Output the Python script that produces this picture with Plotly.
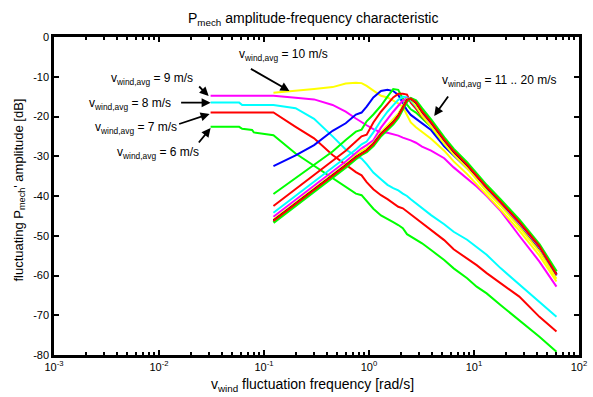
import plotly.graph_objects as go

# Frequency grids [rad/s]
freq_low = [0.031, 0.058, 0.062, 0.077, 0.080, 0.092, 0.123, 0.2, 0.3, 0.45, 0.6, 0.75,
            0.85, 0.95, 1.1, 1.3, 1.5, 1.7, 1.9, 2.1, 2.3, 2.5, 2.8, 3.2, 3.9, 5.2, 6.4,
            8.6, 10.6, 13.2, 18, 27, 42, 61]
freq_high = [0.123, 0.2, 0.3, 0.45, 0.6, 0.75, 0.85, 0.95, 1.1, 1.3, 1.5, 1.7, 1.9, 2.1,
             2.3, 2.5, 2.8, 3.2, 3.9, 5.2, 6.4, 8.6, 10.6, 13.2, 18, 27, 42, 61]

# Amplitude [dB] for each mean wind speed (low speeds on freq_low)
amp_v06 = [-22.6, -22.6, -23.1, -23.4, -24.0, -24.2, -24.7, -29.3, -32.4, -35.5, -37.7, -39.4,
           -39.8, -41.3, -43.2, -44.9, -45.9, -46.6, -47.3, -48.1, -49.6, -50.2, -50.9, -51.9,
           -53.6, -56.1, -58.2, -60.7, -62.8, -64.5, -67.5, -71.2, -75.4, -79.2]
amp_v07 = [-19.0, -19.0, -19.0, -19.0, -19.0, -19.0, -19.0, -22.6, -25.5, -29.7, -32.2, -34.0,
           -34.8, -36.5, -38.3, -39.8, -40.8, -41.7, -42.7, -43.1, -43.9, -44.6, -45.7, -47.0,
           -48.6, -51.1, -53.4, -55.7, -57.4, -59.4, -62.0, -65.3, -70.4, -74.1]
amp_v08 = [-16.5, -16.5, -17.1, -17.1, -17.1, -17.1, -17.1, -17.9, -20.6, -25.0, -28.3, -29.9,
           -30.6, -32.0, -34.1, -35.8, -37.2, -38.0, -38.6, -39.4, -40.0, -40.8, -41.8, -43.1,
           -44.8, -47.1, -49.0, -51.0, -52.8, -54.8, -58.2, -62.2, -66.5, -70.4]
amp_v09 = [-14.8, -14.8, -14.8, -14.8, -14.8, -14.8, -14.8, -15.3, -15.7, -17.1, -18.8, -20.5,
           -21.3, -22.2, -23.2, -24.0, -24.1, -24.4, -24.8, -25.3, -25.6, -26.0, -26.6, -27.6,
           -28.6, -30.5, -32.8, -35.5, -37.6, -40.0, -43.8, -50.0, -56.5, -62.8]

# Higher speeds on freq_high
amp_v10 = [-14.0, -13.6, -13.1, -12.6, -11.7, -11.5, -11.6, -12.3, -13.5, -14.8, -15.2, -16.0,
           -16.7, -17.6, -19.5, -21.5, -22.7, -23.8, -25.6, -28.6, -31.3, -34.5, -37.0, -39.6,
           -43.5, -48.7, -55.0, -61.5]
amp_v11 = [-32.5, -29.8, -27.2, -23.6, -21.7, -19.5, -19.0, -17.5, -15.2, -13.6, -13.3, -13.6,
           -14.6, -16.8, -18.4, -19.6, -20.6, -21.8, -23.4, -27.5, -29.8, -33.0, -35.3, -38.0,
           -42.0, -47.5, -53.5, -60.0]
amp_v12 = [-39.5, -35.5, -32.0, -28.8, -25.9, -23.8, -23.3, -21.2, -19.5, -17.3, -15.0, -13.1,
           -13.3, -15.5, -17.0, -18.2, -19.0, -20.5, -22.6, -26.8, -29.5, -32.8, -35.5, -38.2,
           -42.0, -47.0, -53.0, -59.8]
amp_v13 = [-42.5, -38.3, -34.8, -31.3, -28.6, -26.3, -25.0, -24.6, -21.5, -18.8, -16.9, -15.2,
           -14.3, -14.3, -14.5, -16.5, -18.0, -20.0, -22.3, -26.5, -29.3, -32.6, -35.3, -38.2,
           -41.9, -46.9, -52.9, -59.8]
amp_v14 = [-44.2, -40.0, -36.5, -33.0, -30.3, -28.3, -27.0, -26.3, -24.0, -21.0, -18.8, -17.2,
           -15.8, -15.0, -15.2, -16.0, -17.5, -19.6, -22.0, -26.3, -29.1, -32.5, -35.2, -38.1,
           -41.8, -46.8, -52.8, -59.6]
amp_v15 = [-45.2, -41.0, -37.5, -34.0, -31.3, -29.2, -28.0, -27.2, -26.0, -22.8, -20.5, -18.8,
           -17.3, -16.0, -15.4, -15.6, -17.0, -19.3, -21.8, -26.2, -29.0, -32.4, -35.2, -38.0,
           -41.7, -46.8, -52.8, -59.8]
amp_v16 = [-45.9, -41.7, -38.2, -34.7, -32.0, -29.8, -28.7, -28.0, -26.6, -24.0, -22.3, -20.8,
           -19.3, -17.3, -15.6, -15.6, -17.2, -19.8, -22.5, -26.8, -29.6, -33.0, -35.8, -38.8,
           -42.5, -47.8, -54.0, -60.8]
amp_v17 = [-46.2, -42.0, -38.5, -35.0, -32.3, -30.2, -29.2, -28.5, -26.9, -24.4, -22.8, -21.4,
           -19.8, -17.8, -15.8, -15.5, -16.5, -18.8, -21.5, -25.9, -28.8, -32.2, -35.0, -37.8,
           -41.5, -46.5, -52.6, -59.7]
amp_v18 = [-46.4, -42.2, -38.7, -35.2, -32.5, -30.4, -29.4, -28.7, -27.1, -24.6, -23.0, -21.6,
           -20.0, -18.0, -16.0, -15.5, -16.3, -18.5, -21.2, -25.7, -28.6, -32.0, -34.9, -37.7,
           -41.4, -46.4, -52.5, -59.6]
amp_v19 = [-46.7, -42.5, -39.0, -35.5, -32.8, -30.7, -29.6, -28.9, -27.4, -24.9, -23.3, -21.9,
           -20.3, -18.3, -16.2, -15.4, -16.0, -18.0, -20.8, -25.3, -28.2, -31.6, -34.5, -37.3,
           -41.0, -46.0, -52.2, -59.0]
amp_v20 = [-46.3, -42.1, -38.6, -35.1, -32.4, -30.3, -29.3, -28.6, -27.0, -24.5, -22.9, -21.5,
           -19.9, -17.9, -15.9, -15.5, -16.4, -18.7, -21.4, -25.8, -28.7, -32.1, -34.9, -37.8,
           -41.5, -46.5, -52.6, -59.7]

speeds = [6, 7, 8, 9, 10, 11, 12, 13, 14, 15, 16, 17, 18, 19, 20]
colors = ["#00ff00", "#ff0000", "#00ffff", "#ff00ff", "#ffff00", "#0000ff", "#00ff00",
          "#ff0000", "#00ffff", "#ff00ff", "#ffff00", "#000000", "#0000ff", "#00ff00", "#ff0000"]
amps = [amp_v06, amp_v07, amp_v08, amp_v09, amp_v10, amp_v11, amp_v12, amp_v13, amp_v14,
        amp_v15, amp_v16, amp_v17, amp_v18, amp_v19, amp_v20]

x_ticks = [1e-3, 1e-2, 1e-1, 1e0, 1e1, 1e2]
x_ticktext = ["10<sup>-3</sup>", "10<sup>-2</sup>", "10<sup>-1</sup>", "10<sup>0</sup>",
              "10<sup>1</sup>", "10<sup>2</sup>"]
y_ticks = [0, -10, -20, -30, -40, -50, -60, -70, -80]
y_ticktext = ["0", "-10", "-20", "-30", "-40", "-50", "-60", "-70", "-80"]

FONT = "Liberation Sans, Arial, sans-serif"
W, H = 593, 397
ML, MR, MT, MB = 54, 6, 37, 42

fig = go.Figure()
for v, amp, col in zip(speeds, amps, colors):
    fr = freq_low if v < 10 else freq_high
    fig.add_trace(go.Scatter(x=fr, y=amp, mode="lines", name=f"{v} m/s",
                             line=dict(color=col, width=2 if v != 19 else 2.6),
                             showlegend=False, hoverinfo="skip"))

minor_vals = [m * 10 ** e for e in range(-3, 2) for m in range(2, 10)]

fig.update_xaxes(type="log", range=[-3, 2], tickmode="array", tickvals=x_ticks,
                 ticktext=x_ticktext, ticks="inside", ticklen=5, tickwidth=2,
                 tickcolor="black", showline=True, linewidth=2.5, linecolor="black",
                 mirror="ticks", showgrid=False, zeroline=False,
                 tickfont=dict(family=FONT, size=11, color="black"),
                 minor=dict(tickvals=minor_vals, ticks="inside", ticklen=3, tickwidth=2,
                            tickcolor="black", showgrid=False))
fig.update_yaxes(range=[-80, 0], tickmode="array", tickvals=y_ticks, ticktext=y_ticktext,
                 ticks="inside", ticklen=5, tickwidth=2, tickcolor="black", showline=True,
                 linewidth=2.5, linecolor="black", mirror="ticks", showgrid=False,
                 zeroline=False, tickfont=dict(family=FONT, size=11, color="black"))


def px(x, y):
    """Pixel position in the page -> paper coordinates."""
    return (x - ML) / (W - ML - MR), 1 - (y - MT) / (H - MT - MB)


annotations = []


def label(text, x, y, size=12, xanchor="left", angle=0):
    xp, yp = px(x, y)
    annotations.append(dict(text=text, x=xp, y=yp, xref="paper", yref="paper",
                            xanchor=xanchor, yanchor="middle", showarrow=False,
                            textangle=angle,
                            font=dict(family=FONT, size=size, color="black")))


def arrow(tip, tail):
    xp, yp = px(*tip)
    annotations.append(dict(text="", x=xp, y=yp, xref="paper", yref="paper",
                            ax=tail[0] - tip[0], ay=tail[1] - tip[1],
                            axref="pixel", ayref="pixel", showarrow=True,
                            arrowhead=2, arrowsize=1.0, arrowwidth=1.8,
                            arrowcolor="black"))


sub = "<sub>wind,avg</sub>"
label(f"v{sub} = 10 m/s", 240, 55)
label(f"v{sub} = 9 m/s", 110, 79)
label(f"v{sub} = 8 m/s", 88, 104)
label(f"v{sub} = 7 m/s", 94, 128)
label(f"v{sub} = 6 m/s", 116, 153)
label(f"v{sub} = 11 .. 20 m/s", 446, 81)

arrow((293, 91), (253, 68))
arrow((211, 96), (200, 85))
arrow((213, 102.7), (182, 102.7))
arrow((212, 114), (180, 124.5))
arrow((213, 128), (200, 144))
arrow((440, 116), (455, 95))

# Title and axis titles
label("P<sub>mech</sub> amplitude-frequency characteristic", 317, 19, size=14, xanchor="center")
label("v<sub>wind</sub> fluctuation frequency [rad/s]", 316, 385, size=14, xanchor="center")
label("fluctuating P<sub>mech</sub>' amplitude [dB]", 18, 190, size=13, xanchor="center",
      angle=-90)

fig.update_layout(width=W, height=H, margin=dict(l=ML, r=MR, t=MT, b=MB),
                  plot_bgcolor="white", paper_bgcolor="white",
                  annotations=annotations, showlegend=False)

fig.write_html("out.html")
